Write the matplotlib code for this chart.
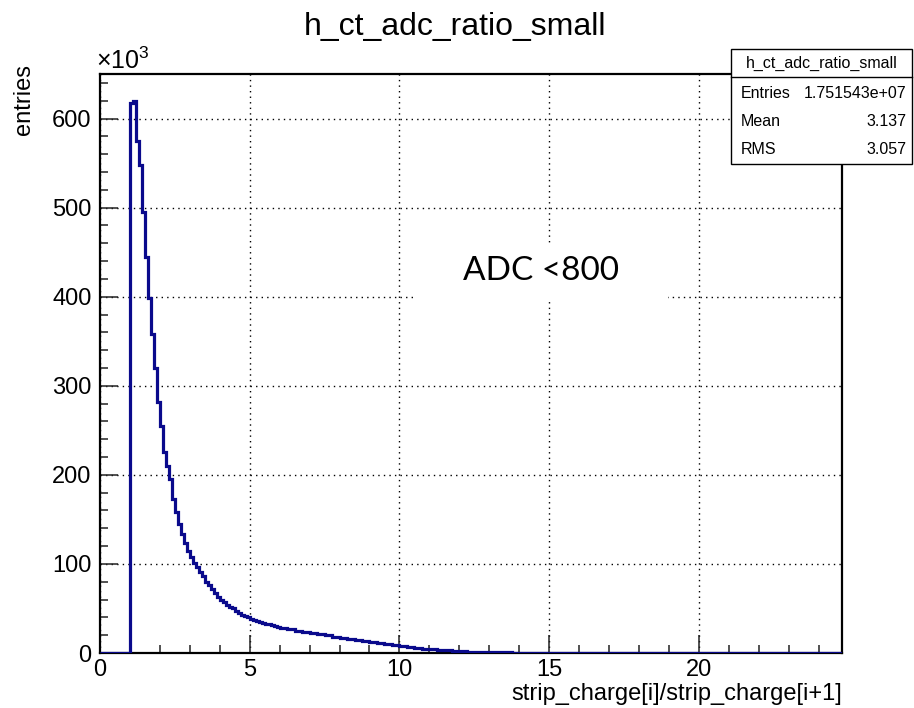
import matplotlib
matplotlib.use("Agg")
import matplotlib.pyplot as plt
import numpy as np
from matplotlib.patches import Rectangle
from matplotlib.ticker import MultipleLocator

plt.rcParams["font.family"] = ["Liberation Sans", "DejaVu Sans"]
plt.rcParams["mathtext.fontset"] = "custom"
plt.rcParams["mathtext.rm"] = "Liberation Sans"

# Histogram contents (entries / 1000)
# fine bins 1.0 .. 6.0 (width 0.1)
fine_counts = [617, 620, 575, 548, 495, 445, 398, 358, 320, 282,
               255, 226, 210, 195, 173, 158, 145, 134, 124, 115,
               108, 101, 96, 91, 86, 80, 76, 72, 67, 63,
               60, 57, 54, 52, 50, 47, 45, 43, 41, 40,
               38.5, 37, 36, 35, 34, 33, 32, 31, 30, 29]
# medium bins 6.0 .. 14.0 (width 0.25)
mid_counts = [28, 26.5, 25, 23.5, 22, 21, 19.8, 18.5, 17.4, 16.2, 15, 13.7,
              12.4, 11.2, 10, 9, 7.9, 7, 6, 5, 4.2, 3.5, 2.9, 2.4,
              1.9, 1.5, 1.2, 1.0, 0.8, 0.7, 0.6, 0.5]
# coarse tail bins 14 .. 25 (width 1)
tail_counts = [0.4, 0.3, 0.3, 0.2, 0.2, 0.2, 0.1, 0.1, 0.1, 0.1, 0.1]

hist_name = "h_ct_adc_ratio_small"
stats_labels = ["Entries", "Mean", "RMS"]
stats_values = ["1.751543e+07", "3.137", "3.057"]

edges = np.concatenate([[0.0],
                        np.arange(1.0, 6.0, 0.1),
                        np.arange(6.0, 14.0, 0.25),
                        np.arange(14.0, 26.0, 1.0)])
counts = np.concatenate([[0.0], fine_counts, mid_counts, tail_counts])

W, H = 914, 708
fig = plt.figure(figsize=(W / 100, H / 100), dpi=100)
ax = fig.add_axes([100 / W, 1 - 653 / H, 742 / W, 579 / H])

ax.stairs(counts, edges, color="#0a0a8c", lw=2.3, zorder=3)

ax.set_xlim(0, 24.78)
ax.set_ylim(0, 650)
ax.xaxis.set_major_locator(MultipleLocator(5))
ax.xaxis.set_minor_locator(MultipleLocator(1))
ax.yaxis.set_major_locator(MultipleLocator(100))
ax.yaxis.set_minor_locator(MultipleLocator(20))
ax.tick_params(which="both", direction="in", top=False, right=False,
               labelsize=17, width=1.1, color="#222222")
ax.tick_params(which="major", length=13)
ax.tick_params(which="minor", length=6)
ax.tick_params(axis="y", pad=6)
ax.tick_params(axis="x", pad=4)
ax.grid(True, which="major", color="black", linestyle=(0, (1, 3)), lw=1)
for sp in ax.spines.values():
    sp.set_linewidth(1.6)

fig.text(455 / W, 1 - 27 / H, hist_name, ha="center", va="center", fontsize=23)
fig.text(842 / W, 1 - 694 / H, "strip_charge[i]/strip_charge[i+1]",
         ha="right", va="center", fontsize=17)
fig.text(24 / W, 1 - 64 / H, "entries", rotation=90, ha="center", va="top",
         fontsize=17)
fig.text(96 / W, 1 - 61 / H, r"$\times$10$^{3}$", ha="left", va="center",
         fontsize=18)

# white label box
fig.patches.append(Rectangle((415 / W, 1 - 300 / H), 253 / W, 57 / H,
                             transform=fig.transFigure, facecolor="white",
                             edgecolor="none", zorder=5))
fig.text(541 / W, 1 - 271 / H, "ADC <800", ha="center", va="center",
         fontsize=24, family=["Lato", "DejaVu Sans"], zorder=6)

# stats box
bx0, bx1, by0, by1 = 731, 912, 49, 164
fig.patches.append(Rectangle((bx0 / W, 1 - by1 / H), (bx1 - bx0) / W,
                             (by1 - by0) / H, transform=fig.transFigure,
                             facecolor="white", edgecolor="black", lw=1,
                             zorder=5))
fig.lines.append(plt.Line2D([bx0 / W, bx1 / W], [1 - 77 / H, 1 - 77 / H],
                            transform=fig.transFigure, color="black", lw=1,
                            zorder=6))
fig.text((bx0 + bx1) / 2 / W, 1 - 63 / H, hist_name, ha="center",
         va="center", fontsize=11.5, zorder=6)
for i, (lab, val) in enumerate(zip(stats_labels, stats_values)):
    y = 1 - (93 + 28 * i) / H
    fig.text(741 / W, y, lab, ha="left", va="center", fontsize=11.5, zorder=6)
    fig.text(906 / W, y, val, ha="right", va="center", fontsize=11.5, zorder=6)

fig.savefig("out.png", dpi=100)
